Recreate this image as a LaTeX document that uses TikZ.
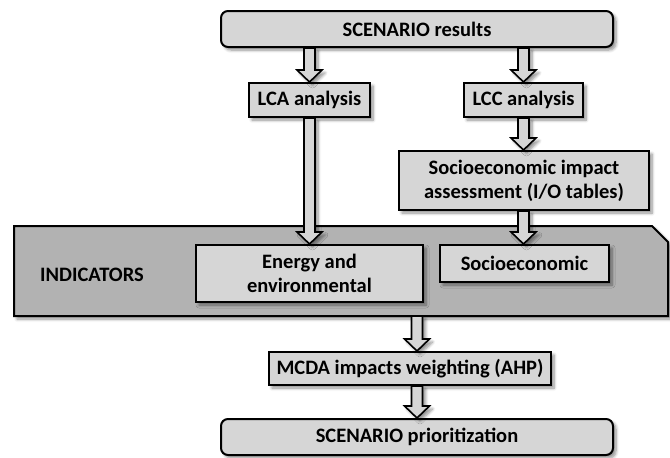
\documentclass[tikz,border=0pt]{standalone}
\usepackage{fontspec}
\setmainfont{Carlito}
\usetikzlibrary{shadows.blur,calc}
\definecolor{boxfill}{gray}{0.84}
\definecolor{bigfill}{gray}{0.70}
\tikzset{
  myshadow/.style={blur shadow={shadow xshift=3pt, shadow yshift=-3pt, shadow blur steps=6, shadow blur radius=3pt, shadow opacity=45}},
  box/.style={draw=black, line width=2pt, fill=boxfill, font=\fontsize{20.5}{24}\selectfont\bfseries, align=center, inner sep=0pt, myshadow},
  rbox/.style={box, rounded corners=7pt},
  bigbox/.style={draw=black, line width=2pt, fill=bigfill, myshadow},
  lbl/.style={font=\fontsize{20.5}{24}\selectfont\bfseries, inner sep=0pt},
  barrow/.style={draw=black, line width=1.6pt, fill=boxfill, line join=miter, myshadow}
}
\newcommand\blockarrow[2]{%
  \draw[barrow] let \p1=#1, \p2=#2 in
    (\x1-5.5pt,\y1) -- (\x1+5.5pt,\y1) -- (\x1+5.5pt,\y2+12pt) -- (\x1+12.5pt,\y2+12pt)
    -- (\x1,\y2) -- (\x1-12.5pt,\y2+12pt) -- (\x1-5.5pt,\y2+12pt) -- cycle;}
\begin{document}
\begin{tikzpicture}[x=1pt,y=-1pt]
\useasboundingbox (0,0) rectangle (670,458);
% indicators panel
\draw[bigbox] (14,226) -- (652,226) -- (668,242) -- (668,316) -- (14,316) -- cycle;
\coordinate (indbot) at (417,316);
\node[lbl] (indlbl) at (92,275) {INDICATORS};
% boxes
\node[rbox, minimum width=392pt, minimum height=36pt] (res) at (417,29) {SCENARIO results};
\node[box, minimum width=121pt, minimum height=34pt] (lca) at (309.5,100) {LCA analysis};
\node[box, minimum width=119pt, minimum height=34pt] (lcc) at (523.5,100) {LCC analysis};
\node[box, minimum width=250pt, minimum height=59pt] (sia) at (524,180.5) {Socioeconomic impact\\assessment (I/O tables)};
\node[box, minimum width=227pt, minimum height=57pt] (ene) at (309.5,273.5) {Energy and\\environmental};
\node[box, minimum width=169pt, minimum height=37pt] (soc) at (524.5,263.5) {Socioeconomic};
\node[box, minimum width=282pt, minimum height=33pt] (mcda) at (410,368.5) {MCDA impacts weighting (AHP)};
\node[rbox, minimum width=392pt, minimum height=36pt] (prio) at (417,437) {SCENARIO prioritization};
% arrows
\blockarrow{(res.south -| lca.north)}{(lca.north)}
\blockarrow{(res.south -| lcc.north)}{(lcc.north)}
\blockarrow{(lca.south)}{(ene.north)}
\blockarrow{(lcc.south)}{(sia.north -| lcc.south)}
\blockarrow{(sia.south -| lcc.south)}{(soc.north -| lcc.south)}
\blockarrow{(indbot)}{(mcda.north -| indbot)}
\blockarrow{(mcda.south -| prio.north)}{(prio.north)}
\end{tikzpicture}
\end{document}
